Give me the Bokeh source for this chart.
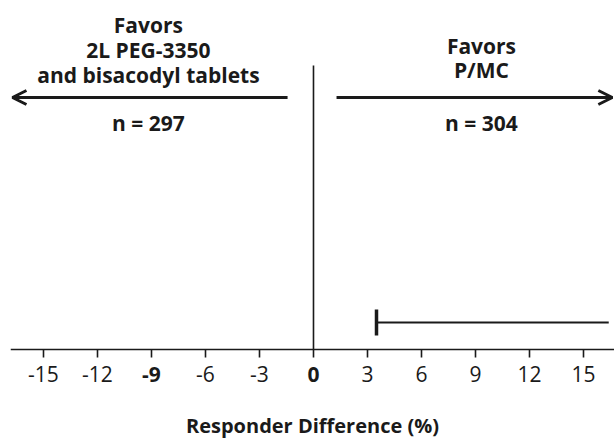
from bokeh.plotting import figure
from bokeh.models import Range1d, Arrow, OpenHead, FixedTicker, ColumnDataSource
from bokeh.core.properties import value
from bokeh.embed import file_html
from bokeh.resources import INLINE

# ---- data ----
comparison = ["P/MC vs 2L PEG-3350 and bisacodyl tablets"]
row_pos = [1]
ci_lower = [3.5]
ci_upper = [16.4]
tick_values = [-15, -12, -9, -6, -3, 0, 3, 6, 9, 12, 15]
tick_labels = ["-15", "-12", "-9", "-6", "-3", "0", "3", "6", "9", "12", "15"]
bold_ticks = [-9, 0]
left_lines = ["Favors", "2L PEG-3350", "and bisacodyl tablets"]
right_lines = ["Favors", "P/MC"]
n_left = 297
n_right = 304
x_title = "Responder Difference (%)"

FONT = "Open Sans"
INK = "#1a1a1a"
PX = 27.0          # pixels per y unit
AXIS_Y = 349       # canvas row of the axis line
W, H = 614, 442
LEFT = 10


def py(canvas_y):
    # convert a canvas pixel row into y data units (axis line at y = 0)
    return (AXIS_Y - canvas_y) / PX


p = figure(frame_width=W - LEFT, frame_height=H,
           x_range=Range1d(-16.83, 16.72), y_range=Range1d(py(H), py(0)),
           output_backend="svg", toolbar_location=None,
           y_axis_location=None, min_border_left=LEFT, min_border_right=0,
           min_border_top=0, min_border_bottom=0)
p.outline_line_color = None
p.xgrid.visible = False
p.ygrid.visible = False

ax = p.xaxis[0]
ax.fixed_location = 0
ax.ticker = FixedTicker(ticks=tick_values)
ax.major_label_overrides = {t: ("" if t in bold_ticks else lab)
                            for t, lab in zip(tick_values, tick_labels)}
ax.axis_line_width = 1.6
ax.axis_line_color = INK
ax.major_tick_line_width = 1.6
ax.major_tick_line_color = INK
ax.major_tick_out = 8
ax.major_tick_in = 0
ax.minor_tick_out = 0
ax.minor_tick_in = 0
ax.major_label_text_font = FONT
ax.major_label_text_font_size = "21px"
ax.major_label_text_color = INK
ax.major_label_standoff = 8
ax.axis_label = x_title
ax.axis_label_text_font = FONT
ax.axis_label_text_font_size = "20px"
ax.axis_label_text_font_style = "bold"
ax.axis_label_text_color = INK
ax.axis_label_standoff = 27

# bold tick labels
bsrc = ColumnDataSource(dict(x=bold_ticks,
                             y=[py(374)] * len(bold_ticks),
                             t=[tick_labels[tick_values.index(b)] for b in bold_ticks]))
p.text(x="x", y="y", text="t", source=bsrc, text_font=value(FONT),
       text_font_size="21px", text_font_style="bold", text_align="center",
       text_baseline="middle", text_color=INK)

# zero line
p.segment(x0=[0], y0=[0], x1=[0], y1=[py(65)], line_color=INK, line_width=1.6)

# confidence interval
src = ColumnDataSource(dict(lo=ci_lower, hi=ci_upper, y=row_pos,
                            ylo=[r - 13 / PX for r in row_pos],
                            yhi=[r + 13 / PX for r in row_pos]))
p.segment(x0="lo", y0="y", x1="hi", y1="y", source=src, line_color=INK, line_width=2.2)
p.segment(x0="lo", y0="ylo", x1="lo", y1="yhi", source=src, line_color=INK, line_width=3.5)

# arrows
p.add_layout(Arrow(end=OpenHead(size=14, line_width=3, line_color=INK),
                   x_start=-1.44, y_start=py(97), x_end=-16.72, y_end=py(97),
                   line_width=3, line_color=INK))
p.add_layout(Arrow(end=OpenHead(size=14, line_width=3, line_color=INK),
                   x_start=1.28, y_start=py(97), x_end=16.6, y_end=py(97),
                   line_width=3, line_color=INK))

# annotation text
left_x = -9.17
right_x = 9.33
ann_text = left_lines + right_lines + [f"n = {n_left}", f"n = {n_right}"]
ann_x = [left_x] * len(left_lines) + [right_x] * len(right_lines) + [left_x, right_x]
ann_y = [py(b) for b in [24, 49, 74, 45, 69, 122, 122]]
asrc = ColumnDataSource(dict(x=ann_x, y=ann_y, t=ann_text))
p.text(x="x", y="y", text="t", source=asrc, text_font=value(FONT),
       text_font_size="21px", text_font_style="bold", text_align="center",
       text_baseline="alphabetic", text_color=INK)

open("out.html", "w").write(file_html(p, INLINE))
